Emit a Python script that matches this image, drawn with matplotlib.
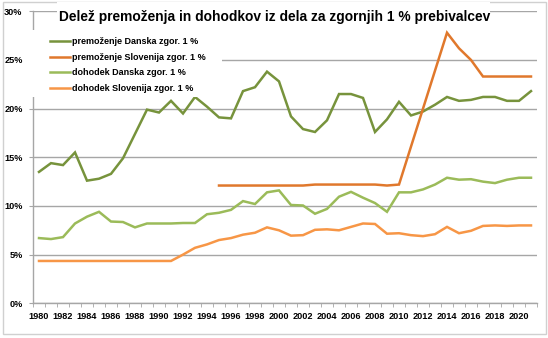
import numpy as np
import matplotlib
matplotlib.use("Agg")
import matplotlib.pyplot as plt
from matplotlib.patches import Rectangle
from matplotlib.ticker import FuncFormatter

nan = np.nan

years = list(range(1980, 2022))

# delež v %
prem_dk = [13.5, 14.4, 14.2, 15.5, 12.6, 12.8, 13.3, 14.9, 17.4, 19.9,
           19.6, 20.8, 19.5, 21.2, 20.2, 19.1, 19.0, 21.8, 22.2, 23.8,
           22.8, 19.2, 17.9, 17.6, 18.8, 21.5, 21.5, 21.1, 17.6, 18.9,
           20.7, 19.3, 19.7, 20.4, 21.2, 20.8, 20.9, 21.2, 21.2, 20.8, 20.8, 21.8]
prem_si = [nan] * 15 + [12.1] * 8 + [12.2] * 6 + [12.1, 12.2,
           16.1, 20.0, 23.9, 27.8, 26.2, 25.0, 23.3, 23.3, 23.3, 23.3, 23.3]
doh_dk = [6.7, 6.6, 6.8, 8.2, 8.9, 9.4, 8.4, 8.35, 7.8, 8.2,
          8.2, 8.2, 8.25, 8.25, 9.15, 9.3, 9.6, 10.5, 10.2, 11.4,
          11.6, 10.1, 10.05, 9.2, 9.7, 10.95, 11.45, 10.85, 10.3, 9.4,
          11.4, 11.4, 11.7, 12.2, 12.9, 12.7, 12.75, 12.5, 12.35, 12.7, 12.9, 12.9]
doh_si = [4.35] * 12 + [5.0, 5.7, 6.05, 6.5, 6.7, 7.05, 7.25, 7.8,
          7.5, 6.95, 7.0, 7.55, 7.6, 7.5, 7.85, 8.2, 8.15, 7.15,
          7.2, 7.0, 6.9, 7.1, 7.85, 7.2, 7.45, 7.95, 8.0, 7.95, 8.0, 8.0]

labels = ["premoženje Danska zgor. 1 %", "premoženje Slovenija zgor. 1 %",
          "dohodek Danska zgor. 1 %", "dohodek Slovenija zgor. 1 %"]
colors = ["#77933C", "#E0782C", "#9BBB59", "#F79646"]
title = "Delež premoženja in dohodkov iz dela za zgornjih 1 % prebivalcev"

plt.rcParams['font.family'] = ['Liberation Sans', 'DejaVu Sans']

W, H = 548, 338
fig = plt.figure(figsize=(W / 100, H / 100), dpi=100)
ax = fig.add_axes([33 / W, 1 - 303.3 / H, 504 / W, 292 / H])

x = np.arange(len(years))
for series, c, lab in zip([prem_dk, prem_si, doh_dk, doh_si], colors, labels):
    ax.plot(x, series, color=c, lw=1.8, label=lab, solid_joinstyle='miter')

ax.set_xlim(-0.5, len(years) - 0.5)
ax.set_ylim(0, 30)
ax.set_yticks(np.arange(0, 31, 5))
ax.yaxis.set_major_formatter(FuncFormatter(lambda v, p: f"{int(v)}%"))
ax.grid(axis='y', color='#A6A6A6', lw=1)
ax.set_axisbelow(True)

ax.set_xticks(x[::2])
ax.set_xticklabels([str(y) for y in years[::2]])
ax.set_xticks(np.arange(-0.5, len(years), 1), minor=True)
ax.tick_params(axis='x', which='major', length=0, pad=6.5)
ax.tick_params(axis='x', which='minor', length=3, color='#A6A6A6', direction='out')
ax.tick_params(axis='y', length=3, color='#A6A6A6', pad=4.5)
for lbl in ax.get_xticklabels() + ax.get_yticklabels():
    lbl.set_fontsize(6.6)
    lbl.set_fontweight('bold')

for s in ['top', 'right']:
    ax.spines[s].set_visible(False)
for s in ['left', 'bottom']:
    ax.spines[s].set_color('#A6A6A6')
    ax.spines[s].set_linewidth(1)

# bela polja pod naslovom in legendo (kot v Excelu)
fig.patches.append(Rectangle((57 / W, 1 - 30 / H), 433 / W, 28 / H,
                             transform=fig.transFigure, facecolor='white',
                             edgecolor='none', zorder=3))
fig.patches.append(Rectangle((28 / W, 1 - 97 / H), 194 / W, 67 / H,
                             transform=fig.transFigure, facecolor='white',
                             edgecolor='none', zorder=3))
# okvir grafikona
fig.patches.append(Rectangle((3 / W, 1 - 334 / H), 543 / W, 332 / H,
                             transform=fig.transFigure, facecolor='none',
                             edgecolor='#D0D0D0', lw=1, zorder=1))

fig.text(275 / W, 1 - 17.5 / H, title, ha='center', va='center',
         fontsize=9.9, fontweight='bold', zorder=5)

leg = fig.legend(loc='upper left', bbox_to_anchor=(44 / W, 1 - 31 / H),
                 frameon=False, prop={'size': 6.5, 'weight': 'bold'},
                 handlelength=2.2, handletextpad=0.15, labelspacing=0.72,
                 borderpad=0.2)
leg.set_zorder(5)

fig.savefig("out.png", dpi=100)
